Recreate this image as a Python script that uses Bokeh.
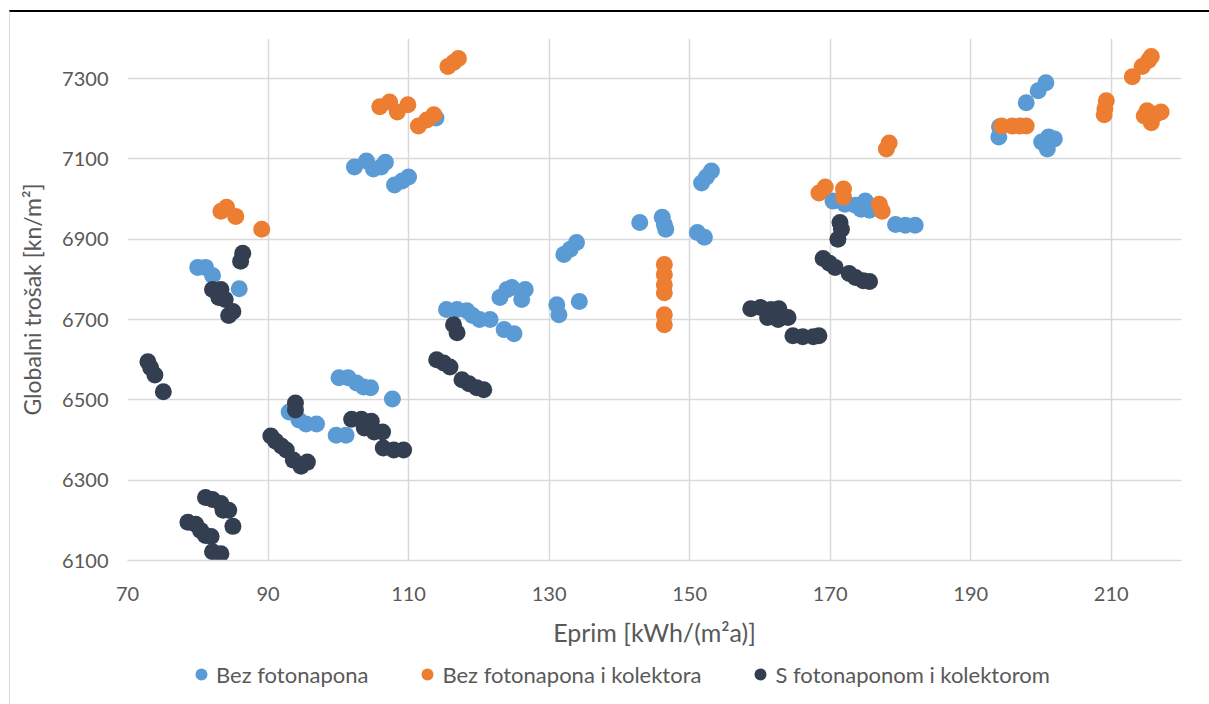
from bokeh.plotting import figure
from bokeh.layouts import column
from bokeh.models import FixedTicker, Legend, LegendItem, Range1d
from bokeh.embed import file_html
from bokeh.resources import INLINE

# ---------------- data ----------------
x_ticks = [70, 90, 110, 130, 150, 170, 190, 210]
y_ticks = [6100, 6300, 6500, 6700, 6900, 7100, 7300]

series_names = ["Bez fotonapona", "Bez fotonapona i kolektora", "S fotonaponom i kolektorom"]
series_colors = ["#5B9BD5", "#ED7D31", "#333F50"]

bez_x = [80, 81.1, 82.1, 85.9,
         93, 94.4, 95.4, 96.9,
         100.1, 101.4, 102.6, 103.6, 104.6, 107.7,
         99.7, 101.1,
         102.3, 104, 105, 106.1, 106.7, 108, 109.1, 110,
         113.9,
         115.4, 116.9, 118.3, 119.1, 120.1, 121.6, 123, 124, 124.7, 126.1, 126.6, 123.6, 125,
         131.1, 131.4, 134.3, 132.1, 133, 133.9,
         142.9, 146.1, 146.4, 146.6, 151.1, 152.1, 151.7, 152.4, 153.1,
         170.4, 172.1, 173.6, 174.4, 175, 175.6, 179.3, 180.7, 182.1,
         194, 194.1, 197.9, 199.6, 200.7, 200.1, 201.1, 201.9, 200.9]
bez_y = [6830, 6830, 6810, 6777,
         6470, 6450, 6440, 6440,
         6555, 6555, 6542, 6532, 6530, 6502,
         6412, 6412,
         7080, 7095, 7075, 7080, 7092, 7035, 7045, 7055,
         7202,
         6725, 6725, 6722, 6710, 6700, 6700, 6755, 6775, 6780, 6750, 6775, 6675, 6665,
         6737, 6712, 6745, 6862, 6875, 6892,
         6942, 6955, 6937, 6925, 6917, 6905, 7040, 7055, 7070,
         6995, 6987, 6985, 6975, 6995, 6972, 6937, 6935, 6935,
         7155, 7180, 7240, 7270, 7290, 7142, 7155, 7150, 7125]

bezk_x = [83.3, 84.1, 85.4, 89.1,
          105.9, 107.3, 108.4, 109.9, 111.4, 112.6, 113.6,
          115.6, 116.4, 117.1,
          146.4, 146.4, 146.4, 146.4, 146.4, 146.4,
          168.4, 169.3, 171.9, 171.9, 177, 177.4, 178, 178.4,
          194.4, 195.9, 197, 197.9,
          209.3, 209.1, 209,
          213, 214.4, 215.3, 215.7,
          214.7, 215.7, 216.4, 217.1, 215.1]
bezk_y = [6970, 6980, 6957, 6925,
          7230, 7242, 7217, 7235, 7182, 7197, 7210,
          7330, 7340, 7350,
          6837, 6812, 6787, 6767, 6712, 6687,
          7015, 7030, 7025, 7005, 6987, 6970, 7125, 7140,
          7182, 7182, 7182, 7182,
          7245, 7225, 7210,
          7305, 7330, 7345, 7355,
          7207, 7190, 7212, 7217, 7220]

sfk_x = [86.1, 86.4,
         82.1, 83.3, 83, 83.9,
         85, 84.4,
         72.9, 73.3, 73.9, 75.1,
         81.1, 82.1, 83.3, 83.6, 84.4, 78.6, 79.7, 80.4, 81.1, 81.9, 85, 82.1, 83.3,
         93.9, 93.9,
         90.4, 91.1, 91.9, 92.6, 93.6, 94.7, 95.6,
         101.9, 103.3, 104.7, 103.7, 105.1, 106.3, 106.4, 107.9, 109.3,
         116.4, 116.9,
         114, 115, 115.9, 117.6, 118.6, 119.7, 120.7,
         158.7, 160.1, 161.6, 162.7, 161.1, 162.6, 164,
         164.7, 166.1, 167.6, 168.4,
         169, 169.9, 170.7, 172.7, 173.6, 174.7, 175.6,
         171.4, 171.1, 171.6]
sfk_y = [6845, 6865,
         6775, 6775, 6755, 6750,
         6720, 6710,
         6595, 6580, 6562, 6520,
         6257, 6252, 6242, 6225, 6225, 6195, 6190, 6175, 6162, 6160, 6185, 6122, 6117,
         6492, 6475,
         6410, 6397, 6385, 6375, 6350, 6335, 6345,
         6452, 6452, 6447, 6430, 6420, 6420, 6380, 6375, 6375,
         6687, 6667,
         6600, 6592, 6582, 6550, 6540, 6530, 6525,
         6727, 6730, 6725, 6727, 6705, 6700, 6705,
         6660, 6657, 6657, 6660,
         6852, 6840, 6830, 6815, 6805, 6797, 6795,
         6942, 6900, 6925]

x_label = "Eprim [kWh/(m²a)]"
y_label = "Globalni trošak [kn/m²]"

# ---------------- figure ----------------
FONT = "Lato"
TXT = "#595959"
GRID = "#D9D9D9"
W = 1199

p = figure(width=W, height=638, output_backend="svg", toolbar_location=None,
           x_range=Range1d(70, 220), y_range=Range1d(6100, 7400),
           min_border_left=117, min_border_right=28, min_border_top=26, min_border_bottom=90)
p.outline_line_color = None

series = [(bez_x, bez_y), (bezk_x, bezk_y), (sfk_x, sfk_y)]
for (xs, ys), c in zip(series, series_colors):
    p.scatter(xs, ys, size=17, fill_color=c, line_color=c, line_width=0)

for ax, ticks in [(p.xaxis, x_ticks), (p.yaxis, y_ticks)]:
    ax.ticker = FixedTicker(ticks=ticks)
    ax.major_label_text_font = FONT
    ax.major_label_text_font_size = "20px"
    ax.major_label_text_color = TXT
    ax.major_tick_line_color = None
    ax.minor_tick_line_color = None
    ax.axis_label_text_font = FONT
    ax.axis_label_text_color = TXT
    ax.axis_label_text_font_style = "normal"

p.xaxis.axis_label = x_label
p.yaxis.axis_label = y_label
p.xaxis.axis_label_text_font_size = "25px"
p.yaxis.axis_label_text_font_size = "23px"
p.xaxis.axis_line_color = GRID
p.xaxis.axis_line_width = 1.5
p.yaxis.axis_line_color = None
p.xaxis.major_label_standoff = 20
p.xaxis.axis_label_standoff = 13
p.yaxis.major_label_standoff = 13
p.yaxis.axis_label_standoff = 13

p.xgrid.ticker = FixedTicker(ticks=x_ticks)
p.ygrid.ticker = FixedTicker(ticks=y_ticks)
for g in (p.xgrid, p.ygrid):
    g.grid_line_color = GRID
    g.grid_line_width = 1.5

# ---------------- legend strip ----------------
# legend proxies: first point of each series, lying outside this strip's range
lg = figure(width=W, height=54, output_backend="svg", toolbar_location=None,
            x_range=Range1d(0, 1), y_range=Range1d(0, 1), x_axis_type=None, y_axis_type=None,
            min_border=0)
lg.outline_line_color = None
lg.xgrid.visible = False
lg.ygrid.visible = False
lrs = [lg.scatter(xs[:1], ys[:1], size=17, fill_color=c, line_color=c, line_width=0)
       for (xs, ys), c in zip(series, series_colors)]
legend = Legend(items=[LegendItem(label=n, renderers=[r]) for n, r in zip(series_names, lrs)],
                orientation="horizontal", location=(59, 15))
legend.label_text_font = FONT
legend.label_text_font_size = "22px"
legend.label_text_color = TXT
legend.border_line_color = None
legend.background_fill_alpha = 0
legend.glyph_width = 30
legend.glyph_height = 30
legend.label_standoff = 0
legend.spacing = 44
legend.margin = 0
legend.padding = 2
lg.add_layout(legend, "center")

layout = column(p, lg, margin=(10, 0, 0, 9),
                styles={"border-top": "2px solid black", "border-left": "1px solid #D9D9D9"})

open("out.html", "w").write(file_html(layout, INLINE))
